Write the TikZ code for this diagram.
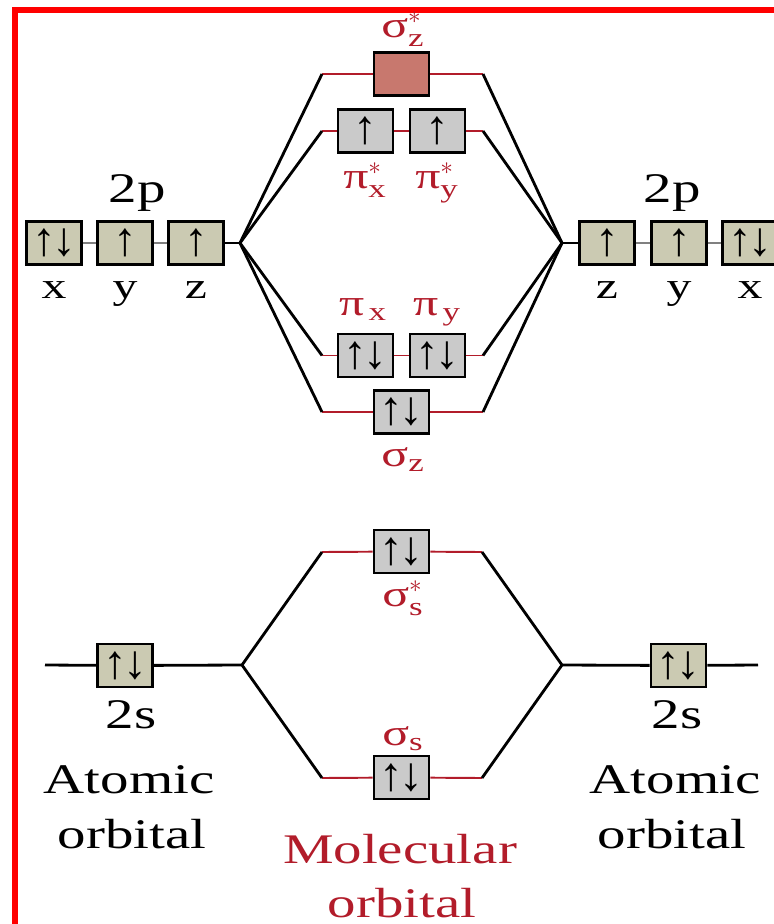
\documentclass[tikz,border=0pt]{standalone}
\usepackage{amsmath}
\usepackage{fontspec}
\setmainfont{Liberation Serif}[FakeStretch=1.35]
\newfontfamily\arrowfont{Liberation Serif}

\definecolor{mored}{RGB}{178,28,42}
\definecolor{aofill}{RGB}{203,202,178}
\definecolor{mofill}{RGB}{202,202,202}
\definecolor{antifill}{RGB}{200,120,110}

\tikzset{
  aobox/.style={draw, line width=1.5pt, fill=aofill, minimum width=1.1cm,
    minimum height=0.86cm, inner sep=0pt, font=\arrowfont\bfseries\fontsize{27}{27}\selectfont},
  mobox/.style={aobox, fill=mofill},
  level/.style={draw=mored, line width=1.1pt},
  split/.style={line width=1.6pt},
  lbl/.style={anchor=base, font=\fontsize{24}{26}\selectfont},
  axis/.style={anchor=base, font=\fontsize{21}{22}\selectfont},
  molbl/.style={anchor=base, text=mored, font=\fontsize{21}{22}\selectfont},
}
\newcommand{\pair}{↑\kern-2pt↓}

\begin{document}
\begin{tikzpicture}[x=0.02cm, y=-0.02cm]
  \useasboundingbox (0,0) rectangle (774,924);
  \draw[red, line width=3.4pt] (15,930) -- (15,10) -- (780,10);

  % 2p, left and right
  \node (axL) at (54,243) [aobox] {\pair};
  \node (ayL) at (125,243) [aobox] {↑};
  \node (azL) at (196,243) [aobox] {↑};
  \node (azR) at (607,243) [aobox] {↑};
  \node (ayR) at (679,243) [aobox] {↑};
  \node (axR) at (750,243) [aobox] {\pair};
  \draw[gray, line width=1pt] (axL) -- (ayL) (ayL) -- (azL);
  \draw[gray, line width=1pt] (azR) -- (ayR) (ayR) -- (axR);
  \node (tpL) at (137,202) [lbl] {2p};
  \node (tpR) at (672,202) [lbl] {2p};
  \node (txL) at (54,298) [axis] {x};
  \node (tyL) at (125,298) [axis] {y};
  \node (tzL) at (196,298) [axis] {z};
  \node (tzR) at (607,298) [axis] {z};
  \node (tyR) at (679,298) [axis] {y};
  \node (txR) at (750,298) [axis] {x};
  \coordinate (vpL) at (240,243);
  \coordinate (vpR) at (562,243);
  \draw[split] (azL) -- (vpL);
  \draw[split] (vpR) -- (azR);

  % molecular levels from 2p
  \node (asz) at (401.5,74) [mobox, fill=antifill] {};
  \node (apx) at (365.5,131) [mobox] {↑};
  \node (apy) at (437.5,131) [mobox] {↑};
  \node (bpx) at (365.5,355.5) [mobox] {\pair};
  \node (bpy) at (437.5,355.5) [mobox] {\pair};
  \node (bsz) at (401.5,412) [mobox] {\pair};
  \coordinate (aszL) at (322,74);   \coordinate (aszR) at (483,74);
  \coordinate (apL) at (322,131);   \coordinate (apR) at (483,131);
  \coordinate (bpL) at (322,355.5); \coordinate (bpR) at (483,355.5);
  \coordinate (bszL) at (322,412);  \coordinate (bszR) at (483,412);
  \draw[level] (aszL) -- (asz) (asz) -- (aszR);
  \draw[level] (apL) -- (apx) (apx) -- (apy) (apy) -- (apR);
  \draw[level] (bpL) -- (bpx) (bpx) -- (bpy) (bpy) -- (bpR);
  \draw[level] (bszL) -- (bsz) (bsz) -- (bszR);
  \foreach \s in {asz,ap,bp,bsz}{
    \draw[split] (vpL) -- (\s L);
    \draw[split] (vpR) -- (\s R);
  }
  \node (tasz) at (403,37) [molbl] {$\text{σ}^{\ast}_{\text{z}}$};
  \node (tapx) at (365,188) [molbl] {$\text{π}^{\ast}_{\text{x}}$};
  \node (tapy) at (437,188) [molbl] {$\text{π}^{\ast}_{\text{y}}$};
  \node (tbpx) at (363,315) [molbl] {$\text{π}_{\,\text{x}}$};
  \node (tbpy) at (437,315) [molbl] {$\text{π}_{\,\text{y}}$};
  \node (tbsz) at (403,466) [molbl] {$\text{σ}_{\text{z}}$};

  % 2s
  \node (sL) at (125,665.5) [aobox] {\pair};
  \node (sR) at (678.5,665.5) [aobox] {\pair};
  \coordinate (sL0) at (45,665);
  \coordinate (sR0) at (758,665);
  \coordinate (vsL) at (242,665);
  \coordinate (vsR) at (562,665);
  \draw[split] (sL0) -- (sL) (sL) -- (vsL);
  \draw[split] (vsR) -- (sR) (sR) -- (sR0);
  \node (ass) at (401.5,551.5) [mobox] {\pair};
  \node (bss) at (401.5,777.5) [mobox] {\pair};
  \coordinate (assL) at (322,552); \coordinate (assR) at (482,552);
  \coordinate (bssL) at (322,778); \coordinate (bssR) at (482,778);
  \draw[level] (assL) -- (ass) (ass) -- (assR);
  \draw[level] (bssL) -- (bss) (bss) -- (bssR);
  \draw[split] (vsL) -- (assL) (vsL) -- (bssL);
  \draw[split] (vsR) -- (assR) (vsR) -- (bssR);
  \node (tass) at (403,606) [molbl] {$\text{σ}^{\ast}_{\text{s}}$};
  \node (tbss) at (403,745) [molbl] {$\text{σ}_{\text{s}}$};

  % captions
  \node (tsL) at (131,728) [lbl] {2s};
  \node (tsR) at (677,728) [lbl] {2s};
  \node (aoL1) at (129,793) [lbl] {Atomic};
  \node (aoL2) at (132,848) [lbl] {orbital};
  \node (aoR1) at (675,793) [lbl] {Atomic};
  \node (aoR2) at (672,848) [lbl] {orbital};
  \node (mo1) at (400,863) [lbl, text=mored] {Molecular};
  \node (mo2) at (402,917) [lbl, text=mored] {orbital};
\end{tikzpicture}
\end{document}
